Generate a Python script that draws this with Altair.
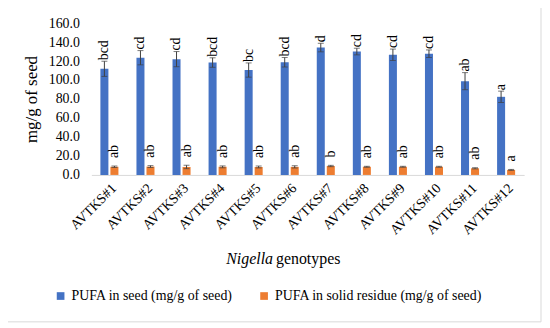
import altair as alt
import pandas as pd

genotypes = ["AVTKS#1", "AVTKS#2", "AVTKS#3", "AVTKS#4", "AVTKS#5", "AVTKS#6",
             "AVTKS#7", "AVTKS#8", "AVTKS#9", "AVTKS#10", "AVTKS#11", "AVTKS#12"]
series_names = ["PUFA in seed (mg/g of seed)", "PUFA in solid residue (mg/g of seed)"]
seed = [111.8, 123.5, 122.0, 118.4, 110.5, 118.7, 134.2, 130.0, 126.6, 127.7, 98.8, 82.3]
seed_err = [8.0, 7.5, 8.0, 5.0, 7.5, 5.0, 4.5, 3.5, 6.0, 4.0, 9.0, 6.0]
seed_letters = ["bcd", "cd", "cd", "bcd", "bc", "bcd", "d", "cd", "cd", "cd", "ab", "a"]
residue = [8.6, 8.8, 8.4, 8.5, 8.4, 8.5, 9.4, 8.6, 8.6, 8.6, 7.0, 5.3]
residue_err = [0.8, 1.0, 1.8, 1.0, 1.0, 1.2, 0.7, 0.5, 0.5, 0.5, 0.6, 0.5]
residue_letters = ["ab", "ab", "ab", "ab", "ab", "ab", "b", "ab", "ab", "ab", "ab", "a"]
y_ticks = [0, 20, 40, 60, 80, 100, 120, 140, 160]
colors = ["#4472C4", "#ED7D31"]

rows = []
for i, g in enumerate(genotypes):
    rows.append(dict(genotype=g, series=series_names[0], value=seed[i], err=seed_err[i],
                     letter=seed_letters[i]))
    rows.append(dict(genotype=g, series=series_names[1], value=residue[i], err=residue_err[i],
                     letter=residue_letters[i]))
df = pd.DataFrame(rows)
df["lo"] = df["value"] - df["err"]
df["hi"] = df["value"] + df["err"]

FONT = "Liberation Serif"

x_enc = alt.X("genotype:N", sort=genotypes,
              scale=alt.Scale(paddingInner=0.5, paddingOuter=0.25),
              axis=alt.Axis(title=None, labelAngle=-45, labelFontSize=14, labelColor="#000000",
                            labelFont=FONT, labelPadding=6, ticks=False, domainColor="#d9d9d9"))
xo_enc = alt.XOffset("series:N", sort=series_names, scale=alt.Scale(paddingInner=0.2))

base = alt.Chart(df).encode(x=x_enc, xOffset=xo_enc)

y_scale = alt.Scale(domain=[0, 160])
y_axis = alt.Axis(title="mg/g of seed", values=y_ticks, format=".1f",
                  grid=False, domain=False, ticks=False, labelFontSize=14,
                  labelFont=FONT, titleFont=FONT, labelOverlap=False,
                  labelColor="#000000", labelPadding=12, titleFontSize=17,
                  titleFontWeight="normal", titleColor="#000000", titlePadding=8)


def yq(field):
    return alt.Y(f"{field}:Q", scale=y_scale, axis=y_axis, title="mg/g of seed")


bars = base.mark_bar().encode(
    y=yq("value"),
    color=alt.Color("series:N", sort=series_names,
                    scale=alt.Scale(domain=series_names, range=colors),
                    legend=alt.Legend(title=None, orient="none", direction="horizontal",
                                      legendX=-38, legendY=268, symbolType="square",
                                      symbolSize=60, symbolStrokeWidth=0, labelFontSize=14,
                                      labelFont=FONT, labelLimit=0,
                                      labelColor="#000000", columnPadding=24)),
)

rules = base.mark_rule(color="#404040", strokeWidth=1).encode(y=yq("lo"), y2="hi:Q")
cap_lo = base.mark_tick(color="#404040", thickness=1, size=6).encode(y=yq("lo"))
cap_hi = base.mark_tick(color="#404040", thickness=1, size=6).encode(y=yq("hi"))

txt_seed = base.transform_filter(alt.datum.series == series_names[0]).mark_text(
    angle=270, align="left", baseline="middle", dx=1, fontSize=14, color="#000000", font=FONT
).encode(y=yq("hi"), text="letter:N")
txt_res = base.transform_filter(alt.datum.series == series_names[1]).mark_text(
    angle=270, align="left", baseline="middle", dx=8, fontSize=14, color="#000000", font=FONT
).encode(y=yq("hi"), text="letter:N")

title1 = alt.Chart(pd.DataFrame({"t": ["Nigella"]})).mark_text(
    align="right", baseline="middle", fontSize=16, fontStyle="italic", color="#000000", font=FONT
).encode(x=alt.value(183), y=alt.value(238), text="t:N")
title2 = alt.Chart(pd.DataFrame({"t": ["genotypes"]})).mark_text(
    align="left", baseline="middle", fontSize=16, color="#000000", font=FONT
).encode(x=alt.value(186), y=alt.value(238), text="t:N")

border = alt.Chart(pd.DataFrame({"a": [0]})).mark_rect(
    fill="transparent", stroke="#d9d9d9", strokeWidth=1
).encode(x=alt.value(-88), x2=alt.value(453), y=alt.value(-18), y2=alt.value(301))

chart = alt.layer(bars, rules, cap_lo, cap_hi, txt_seed, txt_res, title1, title2, border).properties(
    width=436, height=153,
    autosize=alt.AutoSizeParams(type="none"),
    padding={"left": 84, "top": 14, "right": 18, "bottom": 149},
).configure(font=FONT).configure_axis(
    labelFont=FONT, titleFont=FONT, labelOverlap=False
).configure_view(stroke="transparent")

chart.save("out.html", embed_options={"renderer": "svg", "actions": False})
